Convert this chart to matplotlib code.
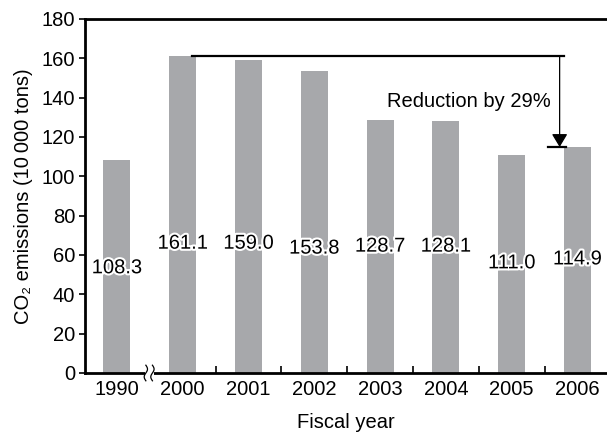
import matplotlib
matplotlib.use("Agg")
import matplotlib.pyplot as plt
import matplotlib.patheffects as pe
import numpy as np

plt.rcParams['font.family'] = ['Liberation Sans', 'DejaVu Sans']

# Data
YEARS = ['1990', '2000', '2001', '2002', '2003', '2004', '2005', '2006']
EMISSIONS = [108.3, 161.1, 159.0, 153.8, 128.7, 128.1, 111.0, 114.9]
# heights at which the value labels sit (inside the bars)
LABEL_Y = [53.5, 66.0, 66.0, 63.5, 64.5, 64.5, 56.0, 58.0]

BAR_COLOR = '#a7a8ab'
FS = 14.5

fig = plt.figure(figsize=(6.07, 4.33), dpi=100)
ax = fig.add_axes([85 / 607, 60 / 433, 1 - 85 / 607, 354 / 433])

x = np.arange(len(YEARS))
ax.bar(x, EMISSIONS, width=0.41, color=BAR_COLOR, zorder=2)

for xi, v, ly in zip(x, EMISSIONS, LABEL_Y):
    ax.text(xi, ly, f'{v:.1f}', ha='center', va='center', fontsize=FS, zorder=4,
            path_effects=[pe.withStroke(linewidth=3, foreground='white')])

# reduction annotation: from 2000 level down to 2006 level
ax.plot([1.14, 6.80], [EMISSIONS[1], EMISSIONS[1]], color='black', lw=1.6, zorder=3)
ax.plot([6.55, 6.83], [EMISSIONS[-1], EMISSIONS[-1]], color='black', lw=1.6, zorder=3)
ax.annotate('', xy=(6.73, EMISSIONS[-1]), xytext=(6.73, EMISSIONS[1]),
            arrowprops=dict(arrowstyle='-|>,head_length=0.5,head_width=0.3', color='black',
                            lw=0.9, mutation_scale=16, shrinkA=0, shrinkB=0), zorder=3)
ax.text(6.59, 138, 'Reduction by 29%', ha='right', va='center', fontsize=FS)

ax.set_xlim(-0.485, 7.45)
ax.set_ylim(0, 180)
ax.set_yticks(np.arange(0, 181, 20))
ax.set_xticks(x)
ax.set_xticklabels(YEARS)
ax.set_xticks(np.arange(1.5, 7, 1), minor=True)
ax.tick_params(axis='x', which='major', length=0, labelsize=FS, pad=5)
ax.tick_params(axis='x', which='minor', direction='in', length=5, width=1.2)
ax.tick_params(axis='y', direction='out', length=4, width=1.2, labelsize=FS, pad=3)

for side in ['left', 'bottom', 'top']:
    ax.spines[side].set_linewidth(2)
ax.spines['right'].set_visible(False)

# axis break marks between 1990 and 2000
trans = ax.get_xaxis_transform()
ax.add_patch(plt.Rectangle((0.42, -0.012), 0.14, 0.024, transform=trans,
                           facecolor='white', edgecolor='none', clip_on=False, zorder=5))
t = np.linspace(-1, 1, 30)
for x0 in [0.44, 0.54]:
    ax.plot(x0 + 0.025 * np.sin(t * np.pi), 0.022 * t, transform=trans,
            color='black', lw=0.9, clip_on=False, zorder=6)

ax.set_xlabel('Fiscal year', fontsize=FS, labelpad=10)
ax.set_ylabel('CO₂ emissions (10\u2009000 tons)', fontsize=FS, labelpad=6)

fig.savefig('out.png', dpi=100)
